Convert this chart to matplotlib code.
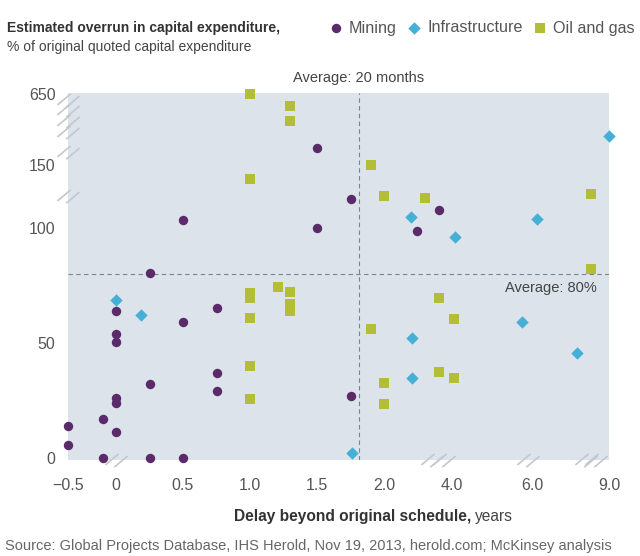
import numpy as np
import matplotlib
matplotlib.use('Agg')
import matplotlib.pyplot as plt
from matplotlib.path import Path

plt.rcParams['font.family'] = ['Liberation Sans', 'DejaVu Sans']

# delay (years) and capex overrun (%) per project
mining_x = [-0.5, -0.5, -0.14, -0.14, 0, 0, 0, 0, 0, 0, 0.25, 0.25, 0.25,
            0.5, 0.5, 0.5, 0.75, 0.75, 0.75, 1.5, 1.5, 1.75, 1.75, 2.97, 3.63]
mining_y = [14, 5.5, 17, 0, 64, 54, 50.5, 26, 24, 11, 80.5, 32, 0,
            106, 59, 0, 65, 37, 29, 270, 100, 123, 27, 98.7, 114]

infra_x = [0, 0.19, 1.76, 2.81, 2.81, 2.8, 4.08, 5.75, 6.18, 7.75, 9.0]
infra_y = [68.5, 62, 2.2, 52.3, 34.8, 109, 96, 59, 107, 45.5, 356]

oil_x = [1.0, 1.0, 1.0, 1.0, 1.0, 1.0, 1.0, 1.21, 1.3, 1.3, 1.3, 1.3, 1.3,
         1.9, 1.9, 2.01, 2.01, 2.01, 3.2, 3.63, 3.63, 4.06, 4.06, 8.29, 8.29]
oil_y = [650, 139, 71.5, 69.5, 61, 40, 25.4, 74.3, 565, 462, 72, 67, 64,
         152, 56, 125, 32.3, 23.3, 123.8, 69.6, 37.4, 60.4, 34.5, 127, 82]

avg_delay = 1.81
avg_overrun = 80

xticks = [-0.5, 0, 0.5, 1.0, 1.5, 2.0, 4.0, 6.0, 9.0]
xticklabels = ['\u22120.5', '0', '0.5', '1.0', '1.5', '2.0', '4.0', '6.0', '9.0']
yticks = [0, 50, 100, 150, 650]

# broken axes: piecewise linear scales
x_src = [-0.5, 0, 2.0, 4.0, 6.0, 9.0]
x_dst = [68, 116, 384, 452, 532, 609]
y_src = [0, 100, 150, 650]
y_dst = [-458, -228, -165, -94]

x_breaks = [0, 3.4, 3.75, 5.9, 8.1, 8.5]
y_breaks = [125, 240, 380, 460, 540, 610]


def piecewise(src, dst):
    src = np.asarray(src, float)
    dst = np.asarray(dst, float)
    lo_k = (dst[1] - dst[0]) / (src[1] - src[0])
    hi_k = (dst[-1] - dst[-2]) / (src[-1] - src[-2])

    def f(v):
        v = np.asarray(v, float)
        out = np.interp(v, src, dst)
        out = np.where(v < src[0], dst[0] + (v - src[0]) * lo_k, out)
        out = np.where(v > src[-1], dst[-1] + (v - src[-1]) * hi_k, out)
        return out
    return f


PURPLE = '#5b2a6a'
CYAN = '#46afd6'
OLIVE = '#b3bd35'
GREY = '#555555'

fig = plt.figure(figsize=(6.4, 5.56), dpi=100)
ax = fig.add_axes([68 / 640, 1 - 460 / 556, (609 - 68) / 640, (460 - 93) / 556])
ax.set_facecolor('#dce3ea')

ax.set_xscale('function', functions=(piecewise(x_src, x_dst), piecewise(x_dst, x_src)))
ax.set_yscale('function', functions=(piecewise(y_src, y_dst), piecewise(y_dst, y_src)))
ax.set_xlim(-0.5, 9.0)
ax.set_ylim(-1, 657)

ax.axvline(avg_delay, color='#7d838c', lw=0.8, ls=(0, (4, 3)), zorder=1)
ax.axhline(avg_overrun, color='#7d838c', lw=0.8, ls=(0, (4, 3)), zorder=1)

m = ax.scatter(mining_x, mining_y, s=46, marker='o', color=PURPLE, lw=0,
               clip_on=False, zorder=3, label='Mining')
i = ax.scatter(infra_x, infra_y, s=40, marker='D', color=CYAN, lw=0,
               clip_on=False, zorder=3, label='Infrastructure')
o = ax.scatter(oil_x, oil_y, s=46, marker='s', color=OLIVE, lw=0,
               clip_on=False, zorder=3, label='Oil and gas')

# axis break marks
brk = Path([(-1, -0.4), (0.2, 0.6), (-0.2, -0.6), (1, 0.4)],
           [Path.MOVETO, Path.LINETO, Path.MOVETO, Path.LINETO])
ax.plot([-0.5] * len(y_breaks), y_breaks, ls='none', marker=brk, ms=16,
        mec='#c4c8cc', mew=1.2, clip_on=False, zorder=2)
ax.plot(x_breaks, [-1] * len(x_breaks), ls='none', marker=brk, ms=16,
        mec='#c4c8cc', mew=1.2, clip_on=False, zorder=2)

for s in ax.spines.values():
    s.set_visible(False)
ax.set_xticks(xticks)
ax.set_xticklabels(xticklabels)
ax.set_yticks(yticks)
ax.set_yticklabels([str(v) for v in yticks])
ax.minorticks_off()
ax.tick_params(length=0, labelsize=11.5, labelcolor=GREY)
ax.tick_params(axis='x', pad=13)
ax.tick_params(axis='y', pad=9)

ax.annotate('Average: 20 months', xy=(avg_delay, 1), xycoords=('data', 'axes fraction'),
            xytext=(0, 11), textcoords='offset points', ha='center', va='center',
            fontsize=10.5, color='#444444')
ax.annotate('Average: 80%', xy=(1, avg_overrun), xycoords=('axes fraction', 'data'),
            xytext=(-9, -10), textcoords='offset points', ha='right', va='center',
            fontsize=10.5, color='#444444')

fig.text(7 / 640, 1 - 28 / 556, 'Estimated overrun in capital expenditure,',
         fontsize=10, fontweight='bold', color='#333333', va='center')
fig.text(7 / 640, 1 - 47 / 556, '% of original quoted capital expenditure',
         fontsize=10, color='#444444', va='center')

fig.legend(handles=[m, i, o], loc='center left', bbox_to_anchor=(319 / 640, 1 - 28 / 556),
           ncol=3, frameon=False, fontsize=11.6, labelcolor=GREY,
           handletextpad=0.15, columnspacing=0.45, borderaxespad=0, handlelength=1.3)

fig.text(471 / 640, 1 - 516 / 556, 'Delay beyond original schedule,',
         fontsize=11.2, fontweight='bold', color='#333333', ha='right', va='center')
fig.text(475 / 640, 1 - 516 / 556, 'years', fontsize=11.2, color='#444444',
         ha='left', va='center')
fig.text(5 / 640, 1 - 546 / 556,
         'Source: Global Projects Database, IHS Herold, Nov 19, 2013, herold.com; McKinsey analysis',
         fontsize=10.5, color='#666666', va='center')

fig.savefig('out.png', dpi=100)
